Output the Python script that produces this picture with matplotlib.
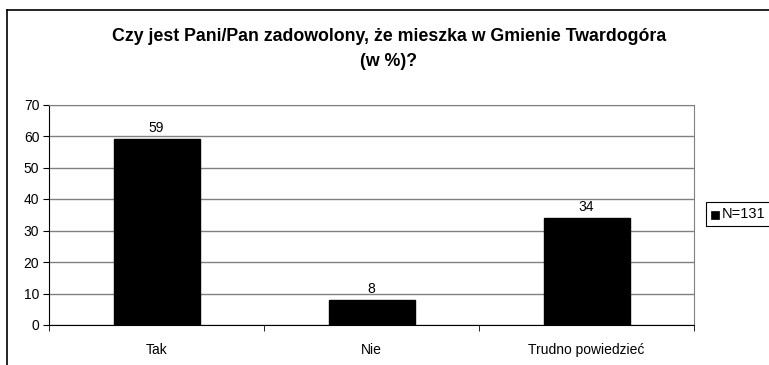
import matplotlib.pyplot as plt
import numpy as np
from matplotlib.patches import Rectangle

categories = ["Tak", "Nie", "Trudno powiedzieć"]
values = [59, 8, 34]
series_name = "N=131"
title = "Czy jest Pani/Pan zadowolony, że mieszka w Gmienie Twardogóra\n(w %)?"

plt.rcParams['font.family'] = ['Liberation Sans', 'DejaVu Sans']

W, H = 769, 365
fig = plt.figure(figsize=(W / 100, H / 100), dpi=100)

# outer chart frame (only top and left visible)
fig.add_artist(plt.Line2D([7 / W, 7 / W], [0, 1 - 10 / H], color='black', lw=1.2))
fig.add_artist(plt.Line2D([7 / W, 1], [1 - 10 / H, 1 - 10 / H], color='black', lw=1.2))

left, right, top, bottom = 49, 694, 104.5, 325
ax = fig.add_axes([left / W, 1 - bottom / H, (right - left) / W, (bottom - top) / H])

x = np.arange(len(categories))
ax.bar(x, values, width=0.4, color='black', edgecolor='black', zorder=3,
       label=series_name)
for xi, v in zip(x, values):
    ax.text(xi, v + 1.2, str(v), ha='center', va='bottom', fontsize=10)

ax.set_xlim(-0.5, len(categories) - 0.5)
ax.set_ylim(0, 70)
ax.set_yticks(range(0, 71, 10))
ax.yaxis.grid(True, color='#808080', lw=1, zorder=0)

ax.set_xticks(x)
ax.set_xticklabels(categories, fontsize=10)
ax.tick_params(axis='x', length=0, pad=13)
ax.set_xticks(np.arange(-0.5, len(categories)), minor=True)
ax.tick_params(axis='x', which='minor', length=4, direction='out', color='black')
ax.tick_params(axis='y', length=4, direction='out', labelsize=10, pad=3)

ax.spines['left'].set_color('black')
ax.spines['bottom'].set_color('black')
ax.spines['top'].set_color('#808080')
ax.spines['right'].set_color('#808080')

fig.text(389 / W, 1 - 49 / H, title, ha='center', va='center', fontsize=12.8,
         fontweight='bold', linespacing=1.6)

# legend box
fig.add_artist(Rectangle((706 / W, 1 - 226 / H), 80 / W, 24 / H, transform=fig.transFigure,
                         facecolor='white', edgecolor='black', lw=0.8))
fig.add_artist(Rectangle((711 / W, 1 - 219 / H), 8 / W, 8 / H, transform=fig.transFigure,
                         facecolor='black', edgecolor='black', lw=0.5))
fig.text(722 / W, 1 - 214.5 / H, series_name, ha='left', va='center', fontsize=10.5)

fig.savefig("out.png", dpi=100, facecolor='white')
